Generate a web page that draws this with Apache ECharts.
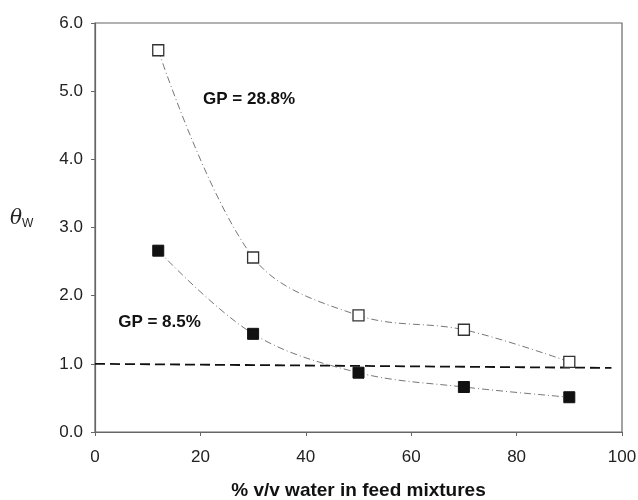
<!DOCTYPE html>
<html>
<head>
<meta charset="utf-8">
<script src="https://cdn.jsdelivr.net/npm/echarts@6/dist/echarts.min.js"></script>
<style>html,body{margin:0;padding:0;background:#fff}#c{width:638px;height:500px}</style>
</head>
<body>
<div id="c"></div>
<script>
const xValues = [12, 30, 50, 70, 90];
const gp288 = [5.6, 2.56, 1.71, 1.50, 1.03];
const gp85 = [2.66, 1.44, 0.87, 0.66, 0.51];
const refX = [0, 98];
const refY = [1.0, 0.94];
const yTicks = ['0.0','1.0','2.0','3.0','4.0','5.0','6.0'];

const pair = (xs, ys) => xs.map((x, i) => [x, ys[i]]);
const chart = echarts.init(document.getElementById('c'));
const axisColor = '#666';
const font = 'Arial, "Liberation Sans", sans-serif';
chart.setOption({
  animation: false,
  backgroundColor: '#fff',
  grid: {left: 95, right: 16, top: 23, bottom: 68, show: true, borderColor: axisColor, borderWidth: 1.2,
         containLabel: false, outerBoundsMode: 'none'},
  xAxis: {
    type: 'value', min: 0, max: 100, interval: 20,
    axisLine: {lineStyle: {color: axisColor, width: 1.2}},
    axisTick: {show: true, length: 4, lineStyle: {color: axisColor}},
    splitLine: {show: false},
    axisLabel: {color: '#222', fontSize: 17, fontFamily: font, margin: 17},
    name: '% v/v water in feed mixtures', nameLocation: 'middle', nameGap: 49,
    nameTextStyle: {color: '#111', fontSize: 19, fontWeight: 'bold', fontFamily: font}
  },
  yAxis: {
    type: 'value', min: 0, max: 6, interval: 1,
    axisLine: {lineStyle: {color: axisColor, width: 1.2}},
    axisTick: {show: true, length: 4, lineStyle: {color: axisColor}},
    splitLine: {show: false},
    axisLabel: {color: '#222', fontSize: 17, fontFamily: font, margin: 12,
      formatter: (v) => yTicks[Math.round(v)]}
  },
  series: [
    {
      type: 'line', data: pair(refX, refY), symbol: 'none',
      lineStyle: {color: '#111', width: 1.8, type: [10, 5]}, z: 1
    },
    {
      type: 'line', data: pair(xValues, gp288), smooth: 0.35,
      symbol: 'rect', symbolSize: 11,
      itemStyle: {color: '#fff', borderColor: '#333', borderWidth: 1.3},
      lineStyle: {color: '#777', width: 1, type: [7, 3, 1, 3]}, z: 3
    },
    {
      type: 'line', data: pair(xValues, gp85), smooth: 0.35,
      symbol: 'rect', symbolSize: 11,
      itemStyle: {color: '#111', borderColor: '#111', borderWidth: 1},
      lineStyle: {color: '#777', width: 1, type: [7, 3, 1, 3]}, z: 3
    }
  ]
});
chart.setOption({
  graphic: [
    {type: 'text', left: 10, top: 209, style: {
      text: '{t|θ}{w|W}', rich: {
        t: {fontSize: 20, fontStyle: 'italic', fontFamily: '"DejaVu Serif", serif', fill: '#222'},
        w: {fontSize: 12, fontFamily: font, fill: '#222', padding: [10, 0, 0, 0]}
      }}},
    {type: 'text', position: chart.convertToPixel({gridIndex: 0}, [20.5, 4.88]), style: {
      text: 'GP = 28.8%', font: 'bold 17px ' + font, fill: '#111', textVerticalAlign: 'middle'}},
    {type: 'text', position: chart.convertToPixel({gridIndex: 0}, [4.4, 1.61]), style: {
      text: 'GP = 8.5%', font: 'bold 17px ' + font, fill: '#111', textVerticalAlign: 'middle'}}
  ]
});
</script>
</body>
</html>
